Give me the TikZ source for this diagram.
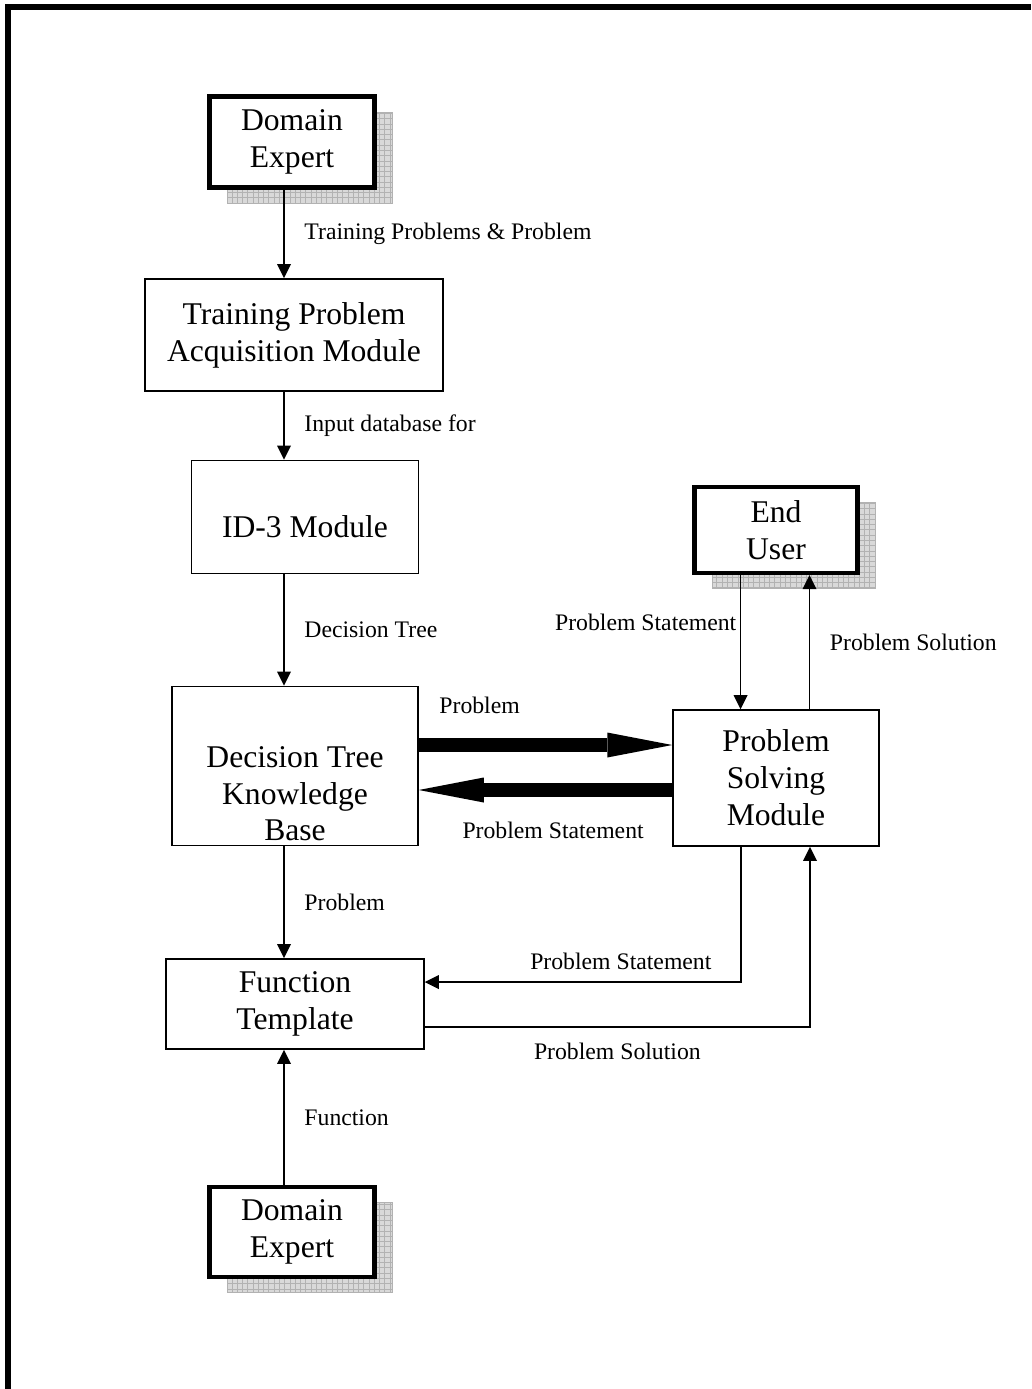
\documentclass[tikz,border=0pt]{standalone}
\usepackage{fontspec}
\setmainfont{Liberation Serif}
\usetikzlibrary{positioning,arrows.meta,shadows,patterns}

\tikzset{
  module/.style={draw, line width=0.9pt, align=center, inner sep=1pt,
    font=\fontsize{18}{21}\selectfont},
  actor/.style={module, line width=2.4pt, fill=white,
    drop shadow={shadow xshift=0.35cm, shadow yshift=-0.31cm, opacity=1,
      fill=gray!30, draw=gray!60, line width=0.4pt,
      postaction={pattern=grid, pattern color=gray!60}}},
  flow/.style={line width=0.8pt, -{Triangle[length=0.28cm,width=0.28cm,line width=0pt]}},
  fatflow/.style={line width=0.27cm, -{Triangle[length=1.3cm,width=0.5cm,line width=0pt]}},
  lbl/.style={inner sep=1pt, font=\fontsize{13.5}{16}\selectfont},
}

\begin{document}
\begin{tikzpicture}[x=0.02cm, y=-0.02cm]
  \useasboundingbox (0,0) rectangle (1031,1389);
  % frame
  \draw[line width=3.4pt] (8,1389) -- (8,7) -- (1031,7);
  % modules
  \node[actor, minimum width=3.3cm, minimum height=1.82cm] (expert) at (292,142) {Domain\\Expert};
  \node[module, minimum width=5.96cm, minimum height=2.24cm] (acq) at (294,335) {Training Problem\\Acquisition Module};
  \node[module, minimum width=4.54cm, minimum height=2.26cm, text height=1cm, text depth=0.18cm] (id3) at (305,517) {ID-3 Module};
  \node[module, minimum width=4.92cm, minimum height=3.18cm, text height=3.05cm, text depth=0.05cm] (kb) at (295,766) {Decision Tree\\Knowledge\\Base};
  \node[actor, minimum width=3.26cm, minimum height=1.72cm] (user) at (776,530) {End\\User};
  \node[module, minimum width=4.12cm, minimum height=2.72cm] (solver) at (776,778) {Problem\\Solving\\Module};
  \node[module, minimum width=5.16cm, minimum height=1.8cm] (tmpl) at (295,1004) {Function\\Template};
  \node[actor, minimum width=3.3cm, minimum height=1.8cm] (expert2) at (292,1232) {Domain\\Expert};
  \coordinate (spine) at (284,0);
  % left column
  \draw[flow] (expert.south -| spine) -- node[lbl, right=0.36cm] {Training Problems \& Problem} (acq.north -| spine);
  \draw[flow] (acq.south -| spine) -- node[lbl, right=0.36cm] {Input database for} (id3.north -| spine);
  \draw[flow] (id3.south -| spine) -- node[lbl, right=0.36cm] {Decision Tree} (kb.north -| spine);
  \draw[flow] (kb.south -| spine) -- node[lbl, right=0.36cm] {Problem} (tmpl.north -| spine);
  \draw[flow] (expert2.north -| spine) -- node[lbl, right=0.36cm] {Function} (tmpl.south -| spine);
  % knowledge base <-> solver
  \draw[fatflow] ([yshift=0.42cm]kb.east) -- node[lbl, pos=0.24, above=0.46cm] {Problem} ([yshift=0.42cm]kb.east -| solver.west);
  \draw[fatflow] ([yshift=-0.48cm]kb.east -| solver.west) -- node[lbl, pos=0.47, below=0.48cm] {Problem Statement} ([yshift=-0.48cm]kb.east);
  % end user <-> solver
  \draw[flow] ([xshift=-0.71cm]user.south) -- node[lbl, pos=0.35, left=1pt] {Problem Statement} ([xshift=-0.71cm]user.south |- solver.north);
  \draw[flow] ([xshift=0.67cm]user.south |- solver.north) -- node[lbl, right=0.36cm] {Problem Solution} ([xshift=0.67cm]user.south);
  % solver <-> template
  \draw[flow] ([xshift=-0.7cm]solver.south) |- node[lbl, pos=0.69, above=0.2cm] {Problem Statement} ([yshift=0.44cm]tmpl.east);
  \draw[flow] ([yshift=-0.46cm]tmpl.east) -| node[lbl, pos=0.25, below=0.28cm] {Problem Solution} ([xshift=0.68cm]solver.south);
\end{tikzpicture}
\end{document}
